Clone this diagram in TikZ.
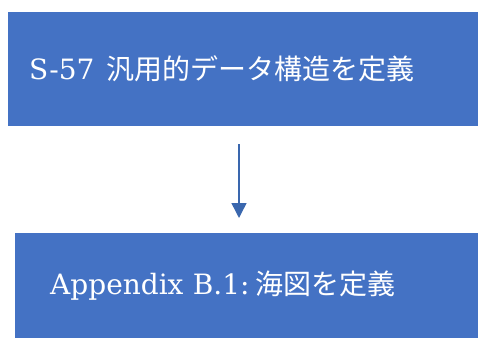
\documentclass[tikz,border=0pt]{standalone}
\usepackage{fontspec}
\setmainfont{DejaVu Serif}
\newfontfamily\cjk{Noto Sans CJK JP}
\usetikzlibrary{arrows.meta}
\definecolor{boxblue}{HTML}{4472C4}
\definecolor{arrowblue}{HTML}{3A67AE}
\tikzset{
  flowbox/.style={fill=boxblue, draw=none, text=white, anchor=north west,
    inner sep=0pt, align=left, font=\fontsize{28}{32}\selectfont},
  flowarrow/.style={draw=arrowblue, line width=1.5pt,
    -{Triangle[width=15pt,length=15pt]}}
}
\begin{document}
\begin{tikzpicture}[x=1pt,y=1pt]
\useasboundingbox (0,0) rectangle (478,338);
\node[flowbox, minimum width=470pt, minimum height=114pt, text width=428pt] (a) at (8,326)
  {S-57\hspace{12pt}{\cjk 汎用的データ構造を定義}};
\node[flowbox, minimum width=463pt, minimum height=105pt, text width=393pt] (b) at (15,105)
  {\raisebox{-3pt}{Appendix B.1:\hspace{6pt}{\cjk 海図を定義}}};
\coordinate (c) at (239,0);
\draw[flowarrow, shorten <=18pt, shorten >=15pt] (a.south -| c) -- (b.north -| c);
\end{tikzpicture}
\end{document}
